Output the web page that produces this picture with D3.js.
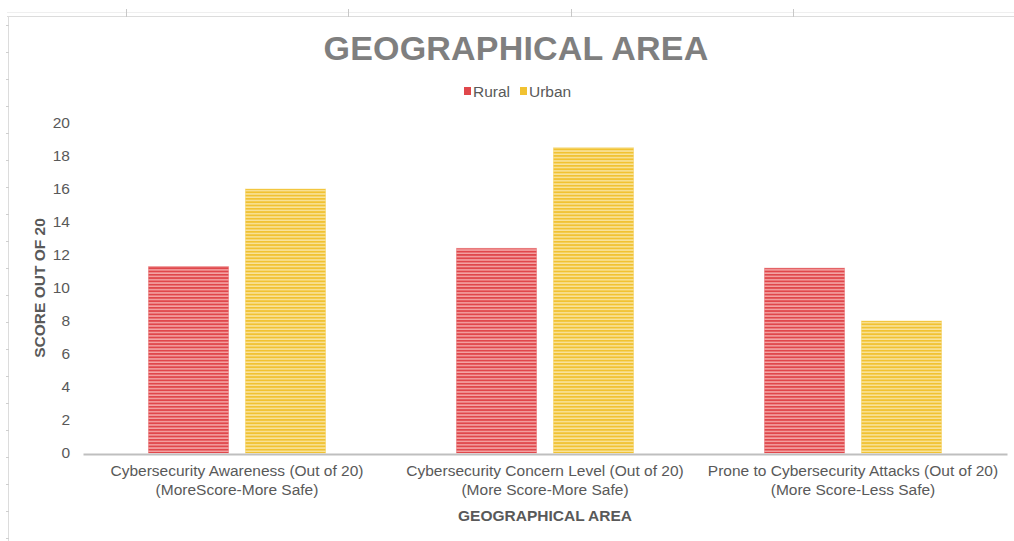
<!DOCTYPE html>
<html>
<head>
<meta charset="utf-8">
<script src="https://cdn.jsdelivr.net/npm/d3@7"></script>
<style>
  html, body { margin: 0; padding: 0; background: #fff; }
  svg { display: block; font-family: "Liberation Sans", Arial, sans-serif; }
</style>
</head>
<body>
<svg id="chart" width="1014" height="541"></svg>
<script>
// Average scores by geographical area
const categories = [
  ["Cybersecurity Awareness (Out of 20)", "(MoreScore-More Safe)"],
  ["Cybersecurity Concern Level (Out of 20)", "(More Score-More Safe)"],
  ["Prone to Cybersecurity Attacks (Out of 20)", "(More Score-Less Safe)"]
];
const seriesNames = ["Rural", "Urban"];
const rural = [11.3, 12.4, 11.2];
const urban = [16.0, 18.5, 8.0];
const yTicks = [0, 2, 4, 6, 8, 10, 12, 14, 16, 18, 20];

const svg = d3.select("#chart");
const W = 1014, H = 541;
const plot = { left: 83, right: 1007, top: 123, bottom: 453 };

// Striped fills for the two series
const defs = svg.append("defs");
const stripes = [
  { id: "stripe-rural", dark: "#e0474b", light: "#f4a4a4" },
  { id: "stripe-urban", dark: "#f1c232", light: "#f9e39c" }
];
stripes.forEach(s => {
  const p = defs.append("pattern")
    .attr("id", s.id)
    .attr("patternUnits", "userSpaceOnUse")
    .attr("width", 8).attr("height", 3.3);
  p.append("rect").attr("width", 8).attr("height", 3.3).attr("fill", s.light);
  p.append("rect").attr("width", 8).attr("height", 1.8).attr("fill", s.dark);
});

// Worksheet frame lines behind the chart
const frame = svg.append("g").attr("stroke", "#dcdcdc").attr("fill", "none");
frame.append("line").attr("x1", 7).attr("x2", W).attr("y1", 12.5).attr("y2", 12.5).attr("stroke", "#efefef");
frame.append("line").attr("x1", 7).attr("x2", W).attr("y1", 16.5).attr("y2", 16.5);
frame.append("line").attr("x1", 8.5).attr("x2", 8.5).attr("y1", 16).attr("y2", H);
[126, 348, 571, 793].forEach(x => {
  frame.append("line").attr("x1", x + 0.5).attr("x2", x + 0.5).attr("y1", 9).attr("y2", 17).attr("stroke", "#c8c8c8");
});
d3.range(25, H, 27).forEach(y => {
  frame.append("line").attr("x1", 6).attr("x2", 9).attr("y1", y + 0.5).attr("y2", y + 0.5).attr("stroke", "#cfcfcf");
});

// Scales
const x0 = d3.scaleBand().domain(d3.range(categories.length)).range([plot.left, plot.right]).padding(0);
const x1 = d3.scaleBand().domain(seriesNames)
  .range([65.5, x0.bandwidth() - 65.5]).paddingInner(0.175).paddingOuter(0);
const y = d3.scaleLinear().domain([0, 20]).range([plot.bottom, plot.top]);

// Title
svg.append("text")
  .attr("x", 516).attr("y", 60)
  .attr("text-anchor", "middle")
  .attr("font-size", 34).attr("font-weight", "bold")
  .attr("fill", "#7f7f7f")
  .attr("letter-spacing", 0.2)
  .text("GEOGRAPHICAL AREA");

// Legend
const legendColors = ["#e0474b", "#f1c232"];
const legend = svg.append("g").attr("font-size", 15.5).attr("fill", "#595959");
const legendItems = [{ x: 464, label: "Rural" }, { x: 520, label: "Urban" }];
legendItems.forEach((d, i) => {
  legend.append("rect").attr("x", d.x).attr("y", 87).attr("width", 7).attr("height", 8).attr("fill", legendColors[i]);
  legend.append("text").attr("x", d.x + 9).attr("y", 97).text(d.label);
});

// Y axis ticks (labels only)
const yAxis = d3.axisLeft(y).tickValues(yTicks).tickSize(0).tickPadding(0);
const yg = svg.append("g").attr("transform", `translate(${70},0)`).call(yAxis);
yg.select(".domain").remove();
yg.selectAll("text").attr("font-size", 15.5).attr("fill", "#595959")
  .attr("font-family", "'Liberation Sans', Arial, sans-serif");

// Y axis title
svg.append("text")
  .attr("transform", `translate(45,${(plot.top + plot.bottom) / 2}) rotate(-90)`)
  .attr("text-anchor", "middle")
  .attr("font-size", 15.5).attr("font-weight", "bold")
  .attr("fill", "#595959")
  .text("SCORE OUT OF 20");

// Bars
const data = categories.map((c, i) => ({ i, values: [rural[i], urban[i]] }));
const groups = svg.append("g").selectAll("g").data(data).join("g")
  .attr("transform", d => `translate(${x0(d.i)},0)`);
groups.selectAll("rect").data(d => d.values.map((v, k) => ({ key: seriesNames[k], v, k })))
  .join("rect")
  .attr("x", d => x1(d.key))
  .attr("y", d => y(d.v))
  .attr("width", x1.bandwidth())
  .attr("height", d => y(0) - y(d.v))
  .attr("fill", d => `url(#${stripes[d.k].id})`)
  .attr("stroke", d => stripes[d.k].dark)
  .attr("stroke-opacity", 0.35)
  .attr("stroke-width", 1);

// X axis line
const xAxis = d3.axisBottom(x0).tickSize(0).tickFormat("");
const xg = svg.append("g").attr("transform", `translate(0,${plot.bottom + 1})`).call(xAxis);
xg.select(".domain").attr("stroke", "#bfbfbf").attr("stroke-width", 2);

// Category labels (two lines)
const lab = svg.append("g").attr("font-size", 15.5).attr("fill", "#595959").attr("text-anchor", "middle");
categories.forEach((c, i) => {
  const cx = x0(i) + x0.bandwidth() / 2;
  lab.append("text").attr("x", cx).attr("y", 476).text(c[0]);
  lab.append("text").attr("x", cx).attr("y", 495).text(c[1]);
});

// X axis title
svg.append("text")
  .attr("x", (plot.left + plot.right) / 2).attr("y", 521)
  .attr("text-anchor", "middle")
  .attr("font-size", 15.5).attr("font-weight", "bold")
  .attr("fill", "#595959")
  .text("GEOGRAPHICAL AREA");
</script>
</body>
</html>
